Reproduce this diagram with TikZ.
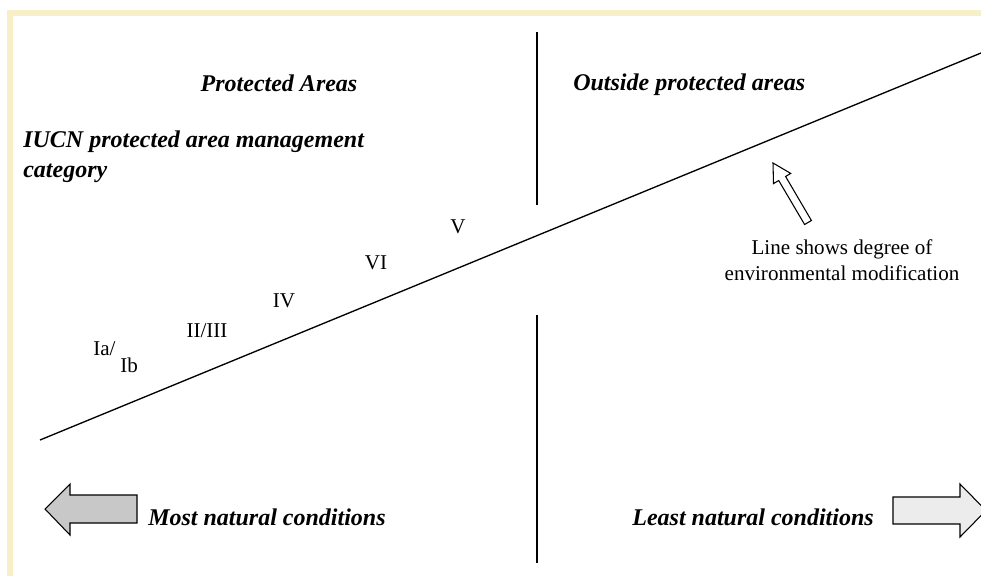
\documentclass[tikz,border=0pt]{standalone}
\usepackage{fontspec}
\setmainfont{Liberation Serif}
\definecolor{frame}{RGB}{247,239,199}
\definecolor{darkfill}{RGB}{200,200,200}
\definecolor{lightfill}{RGB}{236,236,236}
\tikzset{
	txt/.style={font=\fontsize{15.8}{17}\selectfont, inner sep=0pt},
	hd/.style={font=\fontsize{18}{22}\selectfont\bfseries\itshape, inner sep=0pt}
}
\begin{document}
\begin{tikzpicture}[x=0.75pt,y=-0.75pt]
		\useasboundingbox (0,0) rectangle (981,576);
		
		% frame
		\fill[frame] (7,10) rectangle (981,16);
		\fill[frame] (7,10) rectangle (13,576);
		
		% divider and line
		\draw[line width=2pt] (537,32) -- (537,205);
		\draw[line width=2pt] (537,315) -- (537,563);
		\coordinate (lo) at (40,440);
		\coordinate (hi) at (981,53);
		\draw[line width=1pt] (lo) -- (hi);
		
		\node[hd, anchor=base] (pa) at (279,91) {Protected Areas};
		\node[hd, anchor=base west] (opa) at (573,90) {Outside protected areas};
		\node[hd, anchor=base west, align=left] (iucn) at (23,177) {IUCN protected area management\\category};
		
		\node[txt, anchor=base] (v) at (458,233) {V};
		\node[txt, anchor=base] (vi) at (376,269) {VI};
		\node[txt, anchor=base] (iv) at (284,307) {IV};
		\node[txt, anchor=base] (ii) at (207,337) {II/III};
		\node[txt, anchor=base west] (ia) at (93,355) {Ia/};
		\node[txt, anchor=base west] (ib) at (120,372) {Ib};
		
		% hollow arrow
		\draw[line width=0.8pt, fill=white] (773,163) -- (790.7,173.4) -- (785.6,176.5) -- (811.4,220.5) -- (804.6,224.5) -- (778.7,180.5) -- (773.5,183.6) -- cycle;
		\node[txt, anchor=base, align=center] (note) at (842,280) {Line shows degree of\\[2pt]environmental modification};
		
		% bottom arrows
		\draw[line width=0.8pt, fill=darkfill] (45,509) -- (70,484) -- (70,495) -- (137,495) -- (137,523) -- (70,523) -- (70,535) -- cycle;
		\node[hd, anchor=base west] (most) at (148,525) {Most natural conditions};
		\node[hd, anchor=base east] (least) at (874,525) {Least natural conditions};
		\draw[line width=0.8pt, fill=lightfill] (893,497) -- (960,497) -- (960,484) -- (986,510.5) -- (960,537) -- (960,524) -- (893,524) -- cycle;
		\end{tikzpicture}
\end{document}
